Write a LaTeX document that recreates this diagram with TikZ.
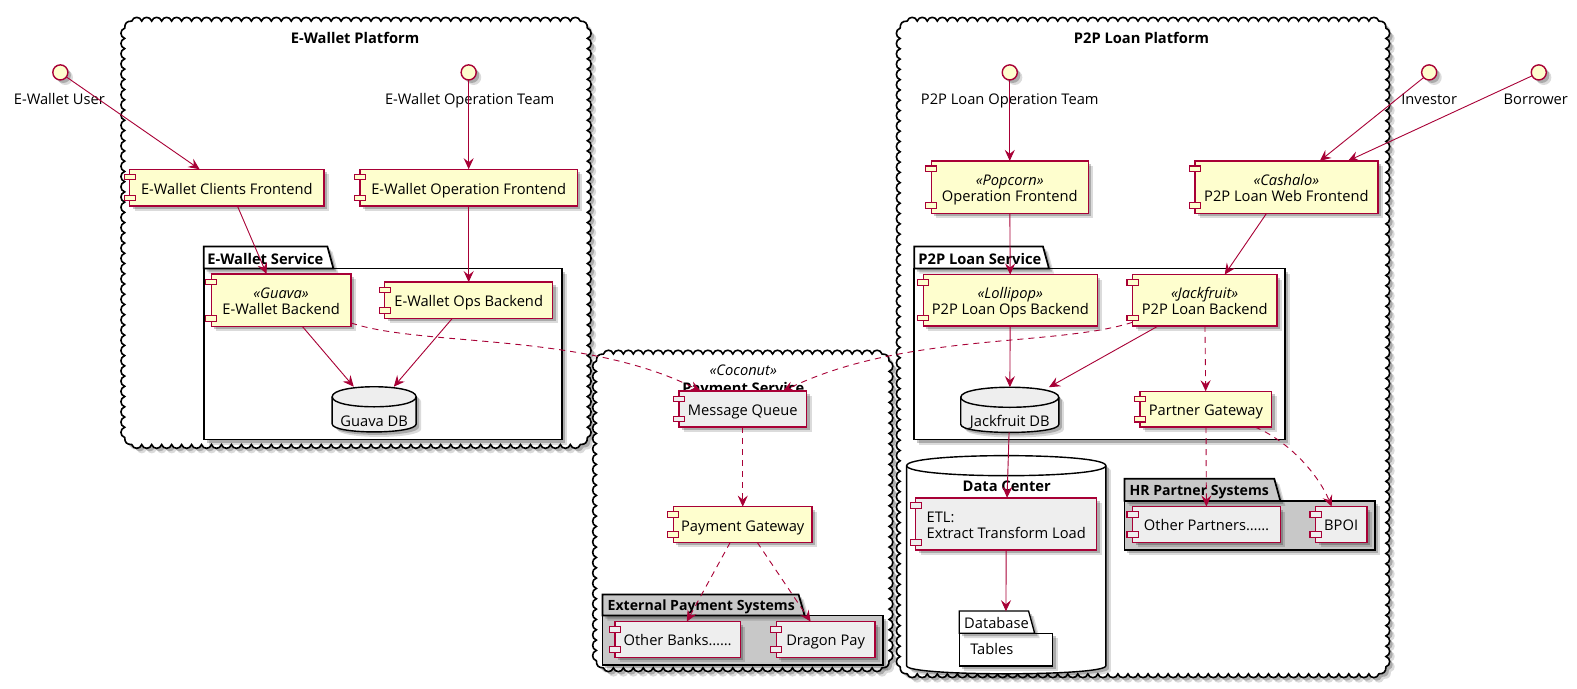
\documentclass[tikz,border=0pt]{standalone}
\usepackage{fontspec}
\setmainfont{Open Sans}
\usetikzlibrary{shadows,arrows.meta}
\definecolor{umlred}{HTML}{A80036}
\definecolor{compyellow}{HTML}{FEFECE}
\definecolor{compgray}{HTML}{EEEEEE}
\definecolor{pkggray}{HTML}{C8C8C8}
\newcommand{\cloudbox}[6]{%
  \pgfmathsetmacro{\segx}{(#3-#1-14)/#5}
  \pgfmathsetmacro{\segy}{(#4-#2-14)/#6}
  \draw[cloudline] (#1+7,#2)
    \foreach \i in {1,...,#5} { .. controls +(1.5,-5) and +(-1.5,-5) .. ++(\segx,0) }
    .. controls +(5,0) and +(0,-5) .. ++(7,7)
    \foreach \i in {1,...,#6} { .. controls +(5,1.5) and +(5,-1.5) .. ++(0,\segy) }
    .. controls +(0,5) and +(5,0) .. ++(-7,7)
    \foreach \i in {1,...,#5} { .. controls +(-1.5,5) and +(1.5,5) .. ++(-\segx,0) }
    .. controls +(-5,0) and +(0,5) .. ++(-7,-7)
    \foreach \i in {1,...,#6} { .. controls +(-5,-1.5) and +(-5,1.5) .. ++(0,-\segy) }
    .. controls +(0,-5) and +(-5,0) .. ++(7,-7) -- cycle;
}
\newcommand{\dbdrum}[2]{%
  \coordinate (dba) at ([yshift=-10pt]#1.north west);
  \coordinate (dbb) at ([yshift=-10pt]#1.north east);
  \coordinate (dbc) at ([yshift=8pt]#1.south east);
  \coordinate (dbd) at ([yshift=8pt]#1.south west);
  \draw[dbline,fill=#2,softshadow] (dba) .. controls +(0,-13.3) and +(0,-13.3) .. (dbb) -- (dbc)
    .. controls +(0,10.6) and +(0,10.6) .. (dbd) -- cycle;
  \draw[dbline] (dba) .. controls +(0,13.3) and +(0,13.3) .. (dbb);
}
\tikzset{
  softshadow/.style={drop shadow={shadow xshift=5pt,shadow yshift=-5pt,fill=black,opacity=0.14},
    drop shadow={shadow xshift=3pt,shadow yshift=-3pt,fill=black,opacity=0.22}},
  comp/.style={draw=umlred,line width=1.4pt,fill=compyellow,softshadow,inner sep=0pt,outer sep=0pt,
    align=center,text height=13pt,text depth=0pt,font=\fontsize{14.6}{16}\selectfont},
  comptwo/.style={comp,text height=29pt},
  compg/.style={comp,fill=compgray},
  comptab/.style={draw=umlred,line width=1.1pt},
  iface/.style={circle,draw=umlred,line width=1.4pt,fill=compyellow,softshadow,minimum size=15pt,inner sep=0pt,outer sep=0pt},
  lbl/.style={inner sep=0pt,text height=13pt,text depth=0pt,font=\fontsize{14.6}{16}\selectfont},
  titlelbl/.style={lbl,font=\fontsize{14.6}{16}\selectfont\bfseries},
  smalltitle/.style={lbl,font=\fontsize{14}{16}\selectfont\bfseries},
  cloudline/.style={draw=black,line width=1.6pt,fill=white,softshadow},
  pkgbox/.style={draw=black,line width=1.7pt,fill=white,softshadow,inner sep=0pt,outer sep=0pt},
  pkgtab/.style={draw=black,line width=1.7pt,fill=white,softshadow},
  dbbox/.style={inner sep=0pt,outer sep=0pt},
  dbline/.style={draw=black,line width=1.4pt},
  flow/.style={draw=umlred,line width=0.9pt,-{Stealth[length=11pt,width=10pt,inset=4pt]}},
  flowdash/.style={flow,dash pattern=on 6pt off 5pt},
}
\begin{document}
\begin{tikzpicture}[x=1pt,y=-1pt]
  \useasboundingbox (0,0) rectangle (1568,685);
  % platforms
  \cloudbox{124}{21}{584}{442}{45}{40}
  \cloudbox{593}{352}{884}{664}{28}{29}
  \cloudbox{895}{21}{1378}{670}{47}{62}
  \node[titlelbl] (wallettitle) at (353,37) {E-Wallet Platform};
  \node[titlelbl] (loantitle) at (1135,37) {P2P Loan Platform};
  \node[lbl,font=\fontsize{14.6}{16}\selectfont\itshape] (coconuttag) at (739,367) {«Coconut»};
  \node[titlelbl] (paytitle) at (739,384.5) {Payment Service};
  % people
  \node[iface] (walletuser) at (60,72) {};
  \node[iface] (walletteam) at (466,72) {};
  \node[iface] (loanteam) at (1004,72) {};
  \node[iface] (investor) at (1421,72) {};
  \node[iface] (borrower) at (1530,72) {};
  \node[lbl] (walletuserlbl) at (59,97) {E-Wallet User};
  \node[lbl] (walletteamlbl) at (467,97) {E-Wallet Operation Team};
  \node[lbl] (loanteamlbl) at (1004,97) {P2P Loan Operation Team};
  \node[lbl] (investorlbl) at (1421,97) {Investor};
  \node[lbl] (borrowerlbl) at (1527,97) {Borrower};
  % packages
  \node[pkgbox,minimum width=356,minimum height=170] (walletsvc) at (380.5,352) {};
  \draw[pkgtab] (walletsvc.north west) -- ++(0,-22) -- ++(123,0) -- ++(6,22) -- cycle;
  \node[titlelbl,anchor=west] (walletsvclbl) at (206,256) {E-Wallet Service};
  \node[pkgbox,minimum width=369,minimum height=170] (loansvc) at (1093.5,352) {};
  \draw[pkgtab] (loansvc.north west) -- ++(0,-22) -- ++(128,0) -- ++(6,22) -- cycle;
  \node[titlelbl,anchor=west] (loansvclbl) at (913,256) {P2P Loan Service};
  \node[pkgbox,fill=pkggray,minimum width=279,minimum height=49] (extpay) at (738.5,636.5) {};
  \draw[pkgtab,fill=pkggray] (extpay.north west) -- ++(0,-21) -- ++(195,0) -- ++(6,21) -- cycle;
  \node[smalltitle,anchor=west] (extpaylbl) at (604,601) {External Payment Systems};
  \node[pkgbox,fill=pkggray,minimum width=249,minimum height=49] (hrpartner) at (1242.5,522.5) {};
  \draw[pkgtab,fill=pkggray] (hrpartner.north west) -- ++(0,-22) -- ++(149,0) -- ++(6,22) -- cycle;
  \node[smalltitle,anchor=west] (hrpartnerlbl) at (1123,485.7) {HR Partner Systems};
  % data center
  \node[dbbox,minimum width=198,minimum height=217] (datacenter) at (1000.5,561.5) {};
  \dbdrum{datacenter}{white}
  \node[titlelbl] (datacenterlbl) at (1001,482) {Data Center};
  \node[pkgbox,line width=1.3pt,minimum width=93,minimum height=32.5] (database) at (1000.2,645.8) {};
  \draw[pkgtab,line width=1.3pt] (database.north west) -- ++(0,-22) -- ++(69,0) -- ++(6,22) -- cycle;
  \node[lbl,anchor=west] (databaselbl) at (958.5,618) {Database};
  \node[lbl,anchor=west] (tableslbl) at (964.5,644) {Tables};
  \coordinate (databasetop) at (1000.2,607.8);
  % components
  \node[comp,minimum width=193,minimum height=36.5] (clients) at (225.5,186.5) {E-Wallet Clients Frontend};
  \node[comp,minimum width=216,minimum height=36.5] (walletfront) at (466,186.5) {E-Wallet Operation Frontend};
  \node[comptwo,minimum width=139,minimum height=52] (guava) at (279.5,298.5) {\textit{«Guava»}\\E-Wallet Backend};
  \node[comp,minimum width=167,minimum height=36] (walletops) at (466,298.5) {E-Wallet Ops Backend};
  \node[compg,minimum width=127,minimum height=35.5] (queue) at (738.5,406.7) {Message Queue};
  \node[comp,minimum width=138,minimum height=35.5] (paygate) at (738.5,521.5) {Payment Gateway};
  \node[compg,minimum width=124.5,minimum height=35.5] (banks) at (673.8,635.8) {Other Banks\dots\dots};
  \node[compg,minimum width=98,minimum height=35.5] (dragon) at (820.9,635.8) {Dragon Pay};
  \node[comptwo,minimum width=156,minimum height=52] (popcorn) at (1004,186) {\textit{«Popcorn»}\\Operation Frontend};
  \node[comptwo,minimum width=182,minimum height=52] (cashalo) at (1279,186) {\textit{«Cashalo»}\\P2P Loan Web Frontend};
  \node[comptwo,minimum width=173,minimum height=51] (lollipop) at (1004.5,298.5) {\textit{«Lollipop»}\\P2P Loan Ops Backend};
  \node[comptwo,minimum width=143.5,minimum height=51] (jackfruit) at (1197.8,298.5) {\textit{«Jackfruit»}\\P2P Loan Backend};
  \node[comp,minimum width=131,minimum height=35.5] (partnergate) at (1199,406.8) {Partner Gateway};
  \node[comptwo,fill=compgray,minimum width=180,minimum height=52,align=left] (etl) at (1000.5,521) {ETL:\\Extract Transform Load};
  \node[compg,minimum width=147,minimum height=35.5] (otherpartner) at (1199.6,521.4) {Other Partners\dots\dots};
  \node[compg,minimum width=51,minimum height=35.5] (bpoi) at (1333.5,521.4) {BPOI};
  \node[dbbox,minimum width=83.5,minimum height=45] (guavadb) at (372,407) {};
  \dbdrum{guavadb}{compgray}
  \node[lbl] (guavadblbl) at (372,417.6) {Guava DB};
  \node[dbbox,minimum width=97.5,minimum height=45] (jackdb) at (1004,407.5) {};
  \dbdrum{jackdb}{compgray}
  \node[lbl] (jackdblbl) at (1004,417.6) {Jackfruit DB};
  \foreach \c/\f in {clients/compyellow,walletfront/compyellow,guava/compyellow,walletops/compyellow,
      paygate/compyellow,popcorn/compyellow,cashalo/compyellow,lollipop/compyellow,jackfruit/compyellow,
      partnergate/compyellow,queue/compgray,banks/compgray,dragon/compgray,etl/compgray,
      otherpartner/compgray,bpoi/compgray} {
    \draw[comptab,fill=\f] (\c.north west) ++(-5.5,5) rectangle ++(11,5.5);
    \draw[comptab,fill=\f] (\c.south west) ++(-5.5,-5) rectangle ++(11,-5.5);
  }
  % connectors
  \draw[flow] (walletuser.-37) -- (clients.146);
  \draw[flow] (walletteam) -- (walletfront);
  \draw[flow] (clients.-60) -- (guava.119);
  \draw[flow] (walletfront) -- (walletops);
  \draw[flow] (guava.-51) -- (guavadb.132);
  \draw[flow] (walletops.-132) -- (guavadb.49);
  \draw[flow] (loanteam) -- (popcorn);
  \draw[flow] (popcorn) -- (lollipop);
  \draw[flow] (lollipop) -- (jackdb);
  \draw[flow] (investor.-137) -- (cashalo.38);
  \draw[flow] (borrower.-153) -- (cashalo.23);
  \draw[flow] (cashalo.-127) -- (jackfruit.52);
  \draw[flow] (jackfruit.-151) -- (jackdb.30);
  \draw[flow] (jackdb) -- (etl);
  \draw[flow] (etl) -- (databasetop);
  \draw[flowdash] (guava.-18) .. controls (420,345) and (580,330) .. (queue.157);
  \draw[flowdash] (jackfruit.-163) .. controls (1050,345) and (900,330) .. (queue.24);
  \draw[flowdash] (jackfruit) -- (partnergate);
  \draw[flowdash] (partnergate) -- (otherpartner);
  \draw[flowdash] (partnergate.-20) .. controls (1280,438) and (1310,470) .. (bpoi.118);
  \draw[flowdash] (queue) -- (paygate);
  \draw[flowdash] (paygate.-125) -- (banks.63);
  \draw[flowdash] (paygate.-51) -- (dragon.130);
\end{tikzpicture}
\end{document}
